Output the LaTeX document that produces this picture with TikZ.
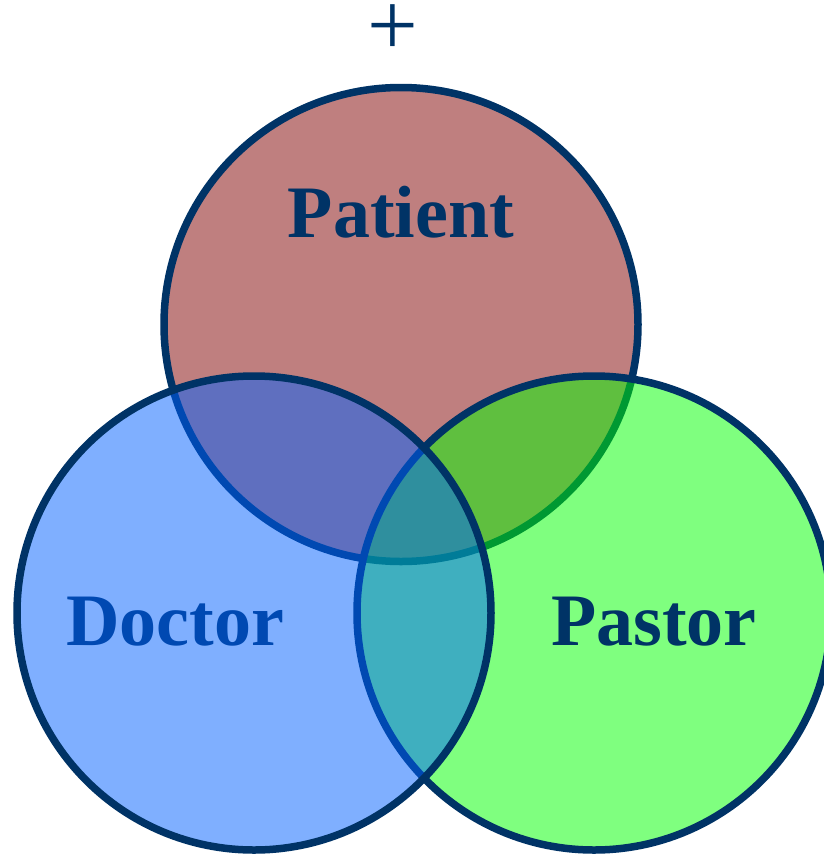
\documentclass[tikz,border=0pt]{standalone}
\usepackage{fontspec}
\setmainfont{Liberation Serif}
\usepackage{tikz}
\usepackage{xcolor}
\definecolor{navy}{RGB}{0,51,102}
\definecolor{patientred}{RGB}{128,0,0}
\definecolor{pastorgreen}{RGB}{0,255,0}
\definecolor{doctorblue}{RGB}{0,96,255}

\begin{document}
\begin{tikzpicture}[x=1pt,y=-1pt,
  ring/.style={draw=navy, line width=7.5pt, fill opacity=0.5},
  word/.style={text=navy, font=\fontsize{74}{80}\selectfont\bfseries, anchor=base}]
\useasboundingbox (0,0) rectangle (823,855);

\node [text=navy, font=\fontsize{90}{96}\selectfont, inner sep=0pt] (plus) at (393,30) {+};

% the three sets, drawn top, right, left
\draw [ring, fill=patientred] (401,324.5) circle [radius=237pt];
\draw [ring, fill=pastorgreen] (594,613) circle [radius=237pt];

\node [word] (patient) at (401,237) {Patient};
\node [word] (pastor) at (654,645) {Pastor};
\node [word] (doctor) at (175,645) {Doctor};

\draw [ring, fill=doctorblue] (254,613) circle [radius=237pt];
\end{tikzpicture}
\end{document}
